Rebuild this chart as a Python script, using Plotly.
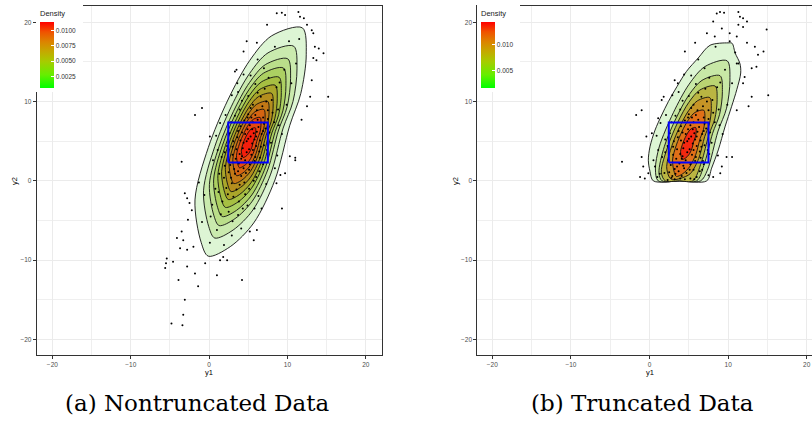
import plotly.graph_objects as go

# ---------------- data ----------------
# Panel (a): density contour polygons, outermost (0.001) to innermost (0.011)
levels_a = [0.001, 0.002, 0.003, 0.004, 0.005, 0.006, 0.007, 0.008, 0.009, 0.010, 0.011]
cont_a_x = [
    [11.9, 8.0, 5.2, 2.4, -0.1, -1.8, -1.0, -0.1, 2.7, 5.7, 8.4, 10.3, 11.7, 12.4],
    [10.80, 7.52, 5.17, 2.82, 0.72, -0.71, -0.04, 0.72, 3.07, 5.59, 7.86, 9.45, 10.71, 11.22],
    [10.04, 7.19, 5.15, 3.10, 1.28, 0.04, 0.62, 1.28, 3.32, 5.51, 7.48, 8.87, 9.96, 10.40],
    [9.49, 6.95, 5.13, 3.31, 1.68, 0.58, 1.10, 1.68, 3.50, 5.46, 7.21, 8.45, 9.42, 9.81],
    [8.93, 6.71, 5.11, 3.52, 2.09, 1.12, 1.58, 2.09, 3.69, 5.40, 6.94, 8.02, 8.88, 9.22],
    [8.45, 6.50, 5.10, 3.70, 2.45, 1.60, 2.00, 2.45, 3.85, 5.35, 6.70, 7.65, 8.40, 8.70],
    [7.97, 6.29, 5.09, 3.88, 2.81, 2.08, 2.42, 2.81, 4.01, 5.30, 6.46, 7.28, 7.92, 8.18],
    [7.48, 6.08, 5.07, 4.06, 3.16, 2.55, 2.84, 3.16, 4.17, 5.25, 6.22, 6.91, 7.45, 7.66],
    [7.00, 5.87, 5.06, 4.25, 3.52, 3.03, 3.26, 3.52, 4.33, 5.20, 5.99, 6.54, 6.97, 7.15],
    [6.52, 5.66, 5.04, 4.43, 3.88, 3.50, 3.68, 3.88, 4.49, 5.15, 5.75, 6.17, 6.50, 6.63],
    [5.90, 5.39, 5.03, 4.66, 4.34, 4.12, 4.22, 4.34, 4.70, 5.09, 5.44, 5.69, 5.88, 5.96],
]
cont_a_y = [
    [19.3, 18.3, 15.2, 10.2, 4.2, -2.4, -7.8, -9.5, -8.3, -5.3, 0.1, 7.0, 11.0, 15.9],
    [16.98, 16.14, 13.54, 9.34, 4.30, -1.25, -5.78, -7.21, -6.20, -3.68, 0.85, 6.65, 10.01, 14.12],
    [15.39, 14.66, 12.39, 8.74, 4.36, -0.46, -4.40, -5.64, -4.76, -2.57, 1.37, 6.41, 9.33, 12.90],
    [14.23, 13.58, 11.56, 8.31, 4.41, 0.12, -3.39, -4.50, -3.72, -1.77, 1.74, 6.23, 8.83, 12.02],
    [13.07, 12.50, 10.73, 7.88, 4.46, 0.70, -2.38, -3.35, -2.67, -0.96, 2.12, 6.05, 8.33, 11.13],
    [12.05, 11.55, 10.00, 7.50, 4.50, 1.20, -1.50, -2.35, -1.75, -0.25, 2.45, 5.90, 7.90, 10.35],
    [11.04, 10.61, 9.27, 7.12, 4.54, 1.70, -0.62, -1.35, -0.83, 0.46, 2.78, 5.75, 7.47, 9.57],
    [10.02, 9.66, 8.54, 6.74, 4.58, 2.21, 0.26, -0.35, 0.08, 1.16, 3.11, 5.59, 7.03, 8.80],
    [9.01, 8.72, 7.82, 6.37, 4.63, 2.71, 1.15, 0.65, 1.00, 1.87, 3.44, 5.44, 6.60, 8.02],
    [7.99, 7.77, 7.09, 5.99, 4.67, 3.22, 2.03, 1.65, 1.92, 2.58, 3.77, 5.28, 6.16, 7.24],
    [6.69, 6.56, 6.15, 5.50, 4.72, 3.86, 3.16, 2.94, 3.10, 3.49, 4.19, 5.09, 5.61, 6.24],
]

# Panel (b): truncated data contours, 0.002 ... 0.014
levels_b = [0.002, 0.004, 0.006, 0.008, 0.010, 0.012, 0.014]
cont_b_x = [
    [10.0, 7.7, 6.2, 4.7, 3.5, 2.4, 1.55, 0.7, 0.06, -0.15, 0.06, 0.48, 3.9, 7.28, 7.9, 8.75, 9.6, 10.45, 11.1, 11.6, 11.5, 10.9, 10.5],
    [9.87, 7.06, 5.04, 3.03, 1.23, 0.75, 1.1, 3.8, 6.5, 7.35, 8.72, 9.80, 10.23],
    [8.97, 6.67, 5.02, 3.37, 1.89, 1.2, 1.6, 3.8, 6.0, 6.91, 8.03, 8.91, 9.27],
    [8.35, 6.40, 5.00, 3.60, 2.35, 1.5, 2.0, 3.8, 5.5, 6.60, 7.55, 8.30, 8.60],
    [7.66, 6.10, 4.98, 3.86, 2.86, 2.18, 2.5, 2.9, 3.9, 5.18, 6.26, 7.02, 7.62, 7.86],
    [6.90, 5.77, 4.96, 4.15, 3.42, 2.93, 3.16, 3.42, 4.23, 5.10, 5.89, 6.44, 6.87, 7.05],
    [5.87, 5.32, 4.93, 4.54, 4.19, 3.95, 4.06, 4.19, 4.58, 5.00, 5.38, 5.64, 5.85, 5.94],
]
cont_b_y = [
    [17.4, 17.1, 15.5, 13.8, 11.9, 10.0, 8.3, 6.4, 4.3, 2.6, 1.2, 0.0, 0.0, 0.0, 1.6, 3.9, 6.8, 9.4, 11.5, 13.6, 14.8, 16.1, 17.35],
    [15.14, 14.42, 12.19, 8.59, 4.27, 1.5, 0.0, 0.0, 0.0, 1.32, 6.28, 9.16, 12.69],
    [13.26, 12.67, 10.84, 7.89, 4.35, 1.0, 0.0, 0.0, 0.0, 1.93, 6.00, 8.36, 11.25],
    [11.95, 11.45, 9.90, 7.40, 4.40, 1.1, 0.0, 0.0, 0.0, 2.35, 5.80, 7.80, 10.25],
    [10.50, 10.10, 8.86, 6.86, 4.46, 1.82, 0.5, 0.15, 0.3, 0.9, 2.82, 5.58, 7.18, 9.14],
    [8.91, 8.62, 7.72, 6.27, 4.53, 2.61, 1.05, 0.55, 0.90, 1.77, 3.34, 5.34, 6.50, 7.92],
    [6.73, 6.59, 6.16, 5.46, 4.62, 3.69, 2.94, 2.70, 2.87, 3.29, 4.04, 5.01, 5.57, 6.25],
]

# Scatter points (y1, y2)
pts_a_y1 = [8.64, 9.28, 9.70, 11.4, 11.6, 12.1, 12.5, 13.1, 13.3, 13.5, 14.0, 14.6, 13.7, 13.3, 15.2, 12.9, 13.1, 12.5, 11.8, 7.4,
            6.1, 4.8, 4.4, 3.3, 3.5, -0.9, -1.8, 0.1, -3.5, 10.3, 11.0, 8.4, -3.1, -2.8, -2.5, -2.2, -2.7, -3.5, -4.1, -3.3,
            -3.7, -2.8, -2.0, -5.4, -5.5, -5.6, -4.6, -2.8, -1.8, -0.5, 1.0, -3.9, -1.4, 4.2, -3.1, -3.3, -4.8, -3.4, 1.8, 2.3,
            1.4, 5.2, 6.1, 5.7, 6.7, 9.3, 8.6, 9.1, 9.7, 11.0,
            4.2, 5.1, 5.8, 4.6, 3.8, 6.3, 5.4, 4.9, 3.5, 6.0, 4.4, 5.6, 3.2, 6.7, 4.0, 5.2, 4.7, 6.9, 3.0, 5.9,
            4.5, 6.4, 3.6, 5.3, 4.1, 7.2, 5.0, 2.8, 6.1, 3.9,
            2.2, 3.1, 2.0, 1.7, 4.6, 7.5, 8.0, 6.6, 5.6, 3.3, 2.6, 1.6, 7.9, 8.3, 6.9, 4.9, 2.5, 1.2, 3.7, 7.1,
            8.8, 5.9, 4.2, 2.3, 8.6, 6.4,
            0.2, 1.0, 0.4, 2.9, 4.1, -0.6, 0.5, 1.4, 2.9, 4.4, 6.2, 8.4, 10.2, 11.1, 10.5, 9.9, 9.3, 8.7, 7.3, 5.8,
            0.1, -0.9, -1.3, 0.9, 3.6, 7.0, 9.6, 11.5, 6.3, 1.9,
            4.8, 5.5, 4.3, 5.0, 3.9, 6.1, 4.6, 5.7, 3.4, 6.5, 4.0, 5.2, 3.3, 6.2, 3.7, 5.8, 4.4, 7.0, 2.7, 6.6,
            4.9, 5.9, 3.1, 5.5, 4.5, 7.5, 5.3, 2.5, 6.8, 3.5, 4.1, 5.6, 4.8, 3.7, 6.0, 4.2, 5.1, 6.9, 3.0, 5.4,
            2.9, 3.8, 2.4, 1.9, 4.3, 5.1, 6.0, 7.4, 7.7, 8.1, 7.3, 6.2, 5.0, 3.9, 2.8, 2.0, 1.3, 7.0, 6.5, 5.7,
            3.0, 1.5, 0.8, 1.1, 2.1, 3.7, 5.3, 7.6, 9.0, 8.9]
pts_a_y2 = [21.13, 21.2, 20.9, 21.3, 20.7, 20.5, 19.7, 19.0, 18.6, 16.9, 16.7, 16.1, 15.2, 15.5, 10.6, 10.6, 12.7, 9.4, 7.7, 19.7,
            17.4, 17.6, 16.3, 13.8, 14.0, 9.2, 8.3, 5.6, 2.4, 3.1, 2.9, 1.6, -1.56, -2.2, -2.8, -3.7, -4.9, -6.4, -7.2, -7.5,
            -8.5, -8.7, -8.3, -9.8, -10.4, -11.0, -10.2, -10.8, -11.7, -10.4, -11.9, -12.5, -13.3, -12.5, -15.0, -16.9, -18.0, -18.2, -9.6, -10.0,
            -10.0, -6.4, -6.2, -7.5, -3.5, -3.5, -0.3, 0.74, 0.96, 2.6,
            3.1, 4.0, 5.2, 5.9, 2.2, 6.8, 3.3, 6.5, 4.0, 4.4, 4.8, 7.4, 1.5, 5.9, 6.9, 2.1, 1.0, 8.0, 3.3, 3.0,
            7.6, 3.7, 5.5, 5.6, 0.6, 6.6, 8.4, 0.4, 8.9, -0.5,
            -0.9, -2.0, 1.9, -2.6, -1.7, 8.9, 10.2, 10.6, 9.6, 8.2, 6.0, 3.0, 4.8, 7.4, 2.1, -3.1, -3.9, -1.4, -4.3, 11.6,
            9.0, 12.2, 10.1, 4.4, 11.8, 1.2,
            -4.5, -6.2, -3.0, -6.9, -6.0, -1.8, 2.6, 7.3, 10.8, 13.4, 15.3, 16.9, 17.6, 14.8, 12.3, 9.6, 5.9, 3.2, -0.4, -3.5,
            -7.8, -5.2, -0.2, 5.7, 12.3, 14.2, 14.0, 17.9, -1.9, -8.1,
            3.6, 4.7, 4.1, 5.3, 3.4, 6.2, 2.6, 6.0, 2.8, 5.1, 5.1, 7.0, 0.9, 7.7, 6.3, 2.5, 1.6, 7.2, 2.0, 4.3,
            8.0, 8.3, 5.0, 6.5, -0.2, 7.8, 9.2, 1.1, 9.4, -1.1, 2.8, 3.9, 5.0, 1.2, 5.6, 6.1, 1.4, 6.3, 4.3, 8.0,
            -0.3, -2.6, -1.7, 0.4, -3.5, -1.0, 0.5, 3.9, 6.1, 8.6, 10.0, 11.1, 10.7, 9.0, 7.4, 3.6, 0.9, 4.5, 2.9, 0.0,
            -5.1, -4.2, -1.0, 3.9, 8.3, 11.2, 13.3, 13.0, 12.4, 7.0]

pts_b_y1 = [8.55, 8.97, 9.48, 11.3, 11.5, 11.9, 12.4, 11.3, 11.9, 8.1, 9.2, 7.3, 8.3, 10.2, 11.1, 12.4, 13.4, 14.5, 14.9, 13.8,
            5.8, 4.5, 3.2, 1.8, 1.55, -1.0, -1.7, 1.1, 0.3, -0.4, -3.5, -1.0, -0.8, -1.2, -0.6, -0.15, 13.0, 12.6, 15.1, 11.9,
            12.1, 11.1, 9.8, 10.5, 9.2, 9.0, 8.1, 11.3, 13.0, 13.6,
            4.2, 5.1, 5.8, 4.6, 3.8, 6.3, 5.4, 4.9, 3.5, 6.0, 4.4, 5.6, 3.2, 6.7, 4.0, 5.2, 4.7, 6.9, 3.0, 5.9,
            4.5, 6.4, 3.6, 5.3, 4.1, 7.2, 5.0, 2.8, 6.1, 3.9, 5.6, 2.4, 6.8, 4.3,
            7.5, 8.0, 6.6, 5.6, 3.3, 2.6, 1.6, 7.9, 8.3, 6.9, 7.1, 8.8, 5.9, 4.2, 2.3, 8.6, 6.4, 1.9, 7.6, 2.0,
            0.5, 1.4, 2.9, 4.4, 6.2, 8.4, 10.2, 11.1, 10.5, 9.9, 9.3, 8.7, 0.9, 3.6, 7.0, 9.6, 1.0, 7.5, 0.7, 10.9,
            4.8, 5.5, 4.3, 5.0, 3.9, 6.1, 4.6, 5.7, 3.4, 6.5, 4.0, 5.2, 3.3, 6.2, 3.7, 5.8, 4.4, 7.0, 2.7, 6.6,
            4.9, 5.9, 3.1, 5.5, 4.5, 7.5, 5.3, 2.5, 6.8, 3.5, 4.1, 5.6, 4.8, 3.7, 6.0, 4.2, 5.1, 6.9, 3.0, 5.4,
            2.9, 6.0, 7.4, 7.7, 8.1, 7.3, 6.2, 5.0, 3.9, 2.8, 2.0, 1.3, 7.0, 6.5, 5.7, 1.1, 2.1, 3.7, 5.3, 7.6,
            9.0, 8.9, 5.2, 3.2, 6.7, 2.3]
pts_b_y2 = [21.1, 21.3, 21.2, 21.3, 20.7, 20.5, 20.1, 19.7, 19.4, 20.1, 19.2, 18.6, 18.2, 18.6, 18.2, 17.4, 16.9, 16.3, 19.1, 15.9,
            17.4, 16.3, 12.7, 10.6, 10.2, 8.9, 8.3, 7.9, 6.0, 5.6, 2.4, 3.0, 1.8, 0.5, 0.3, 0.95, 10.6, 9.4, 10.8, 12.3,
            13.1, 8.9, 3.0, 3.0, 1.8, 0.95, 0.5, 14.8, 14.2, 14.4,
            3.1, 4.0, 5.2, 5.9, 2.2, 6.8, 3.3, 6.5, 4.0, 4.4, 4.8, 7.4, 1.5, 5.9, 6.9, 2.1, 1.0, 8.0, 3.3, 3.0,
            7.6, 3.7, 5.5, 5.6, 0.6, 6.6, 8.4, 0.4, 8.9, 0.3, 1.4, 2.6, 2.5, 1.9,
            8.9, 10.2, 10.6, 9.6, 8.2, 6.0, 3.0, 4.8, 7.4, 2.1, 11.6, 9.0, 12.2, 10.1, 4.4, 11.8, 1.2, 1.0, 3.4, 5.2,
            2.6, 7.3, 10.8, 13.4, 15.3, 16.9, 17.6, 14.8, 12.3, 9.6, 5.9, 3.2, 5.7, 12.3, 14.2, 14.0, 0.5, 0.7, 1.8, 16.2,
            3.6, 4.7, 4.1, 5.3, 3.4, 6.2, 2.6, 6.0, 2.8, 5.1, 5.1, 7.0, 0.9, 7.7, 6.3, 2.5, 1.6, 7.2, 2.0, 4.3,
            8.0, 8.3, 5.0, 6.5, 0.2, 7.8, 9.2, 1.1, 9.4, 1.8, 2.8, 3.9, 5.0, 1.2, 5.6, 6.1, 1.4, 6.3, 4.3, 8.0,
            0.6, 0.5, 3.9, 6.1, 8.6, 10.0, 11.1, 10.7, 9.0, 7.4, 3.6, 0.9, 4.5, 2.9, 0.2, 3.9, 8.3, 11.2, 13.3, 13.0,
            12.4, 7.0, 0.3, 0.2, 1.4, 0.1]

# Blue rectangle (y1 from/to, y2 from/to)
box_y1 = [2.45, 7.5]
box_y2 = [2.3, 7.35]

# Colour-bar ranges and ticks
cbar_a_range = [0.0007, 0.0114]
cbar_a_ticks = [0.0025, 0.0050, 0.0075, 0.0100]
cbar_a_text = ["0.0025", "0.0050", "0.0075", "0.0100"]
cbar_b_range = [0.0017, 0.0143]
cbar_b_ticks = [0.005, 0.010]
cbar_b_text = ["0.005", "0.010"]

axis_ticks = [-20, -10, 0, 10, 20]

# ---------------- styles ----------------
W, H = 812, 421
band_colors_a = ["#DDF5D4", "#CAEAAE", "#BADE8A", "#ACD062", "#A6BF42", "#AAA62A",
                 "#B48E1E", "#C27816", "#D46412", "#E84610", "#F41E0C"]
band_colors_b = ["#DDF5D4", "#C8E8A6", "#BAD472", "#BAB542", "#C69426", "#E07018", "#F42810"]
cscale = [[0, "#00FF00"], [0.2, "#66EE00"], [0.4, "#A6CC00"], [0.55, "#C4AA00"],
          [0.7, "#DC8400"], [0.85, "#F05200"], [1, "#FF0000"]]
tickfont = dict(family="Liberation Sans, Arial, sans-serif", size=6.5, color="#4D4D4D")
titlefont = dict(family="Liberation Sans, Arial, sans-serif", size=7.5, color="#000000")
capfont = dict(family="DejaVu Serif, serif", size=23, color="#000000")

fig = go.Figure()


def add_panel(cx_list, cy_list, colors, px, py, xa, ya):
    for xs, ys, c in zip(cx_list, cy_list, colors):
        fig.add_trace(go.Scatter(
            x=xs + [xs[0]], y=ys + [ys[0]], mode="lines", fill="toself", fillcolor=c,
            line=dict(color="#111111", width=0.9, shape="spline", smoothing=0.9),
            xaxis=xa, yaxis=ya, hoverinfo="skip", showlegend=False))
    fig.add_trace(go.Scatter(
        x=px, y=py, mode="markers", marker=dict(size=2, color="black", line=dict(width=0)),
        xaxis=xa, yaxis=ya, hoverinfo="skip", showlegend=False))
    bx = [box_y1[0], box_y1[1], box_y1[1], box_y1[0], box_y1[0]]
    by = [box_y2[0], box_y2[0], box_y2[1], box_y2[1], box_y2[0]]
    fig.add_trace(go.Scatter(
        x=bx, y=by, mode="lines", line=dict(color="#0000FF", width=2),
        xaxis=xa, yaxis=ya, hoverinfo="skip", showlegend=False))


add_panel(cont_a_x, cont_a_y, band_colors_a, pts_a_y1, pts_a_y2, "x", "y")
add_panel(cont_b_x, cont_b_y, band_colors_b, pts_b_y1, pts_b_y2, "x2", "y2")


def add_cbar(rng, ticks, text, xpix, xa, ya):
    fig.add_trace(go.Scatter(
        x=[None], y=[None], mode="markers", xaxis=xa, yaxis=ya, hoverinfo="skip", showlegend=False,
        marker=dict(color=[rng[0]], cmin=rng[0], cmax=rng[1], colorscale=cscale, showscale=True,
                    colorbar=dict(x=xpix / W, xanchor="left", xpad=0,
                                  y=1 - 87.7 / H, yanchor="bottom", ypad=0,
                                  len=79.5, lenmode="pixels", thickness=14, thicknessmode="pixels",
                                  outlinewidth=0, tickvals=ticks, ticktext=text,
                                  ticks="inside", ticklen=3, tickcolor="white", tickwidth=1,
                                  tickfont=dict(family=tickfont["family"], size=6.5, color="#333333"),
                                  title=dict(text="Density", side="top",
                                             font=dict(family=tickfont["family"], size=7.5, color="#1A1A1A"))))))


add_cbar(cbar_a_range, cbar_a_ticks, cbar_a_text, 40, "x", "y")
add_cbar(cbar_b_range, cbar_b_ticks, cbar_b_text, 481, "x2", "y2")

ydom = [1 - 355.3 / H, 1 - 6 / H]
common = dict(showgrid=True, gridcolor="#EBEBEB", gridwidth=1, zeroline=False,
              showline=True, linecolor="#333333", linewidth=0.9,
              ticks="outside", ticklen=3, tickwidth=0.8, tickcolor="#333333",
              tickvals=axis_ticks, tickfont=tickfont,
              minor=dict(dtick=5, tick0=0, showgrid=True, gridcolor="#EFEFEF", gridwidth=0.6, ticks=""))

fig.update_layout(
    width=W, height=H, autosize=False, margin=dict(l=0, r=0, t=0, b=0),
    paper_bgcolor="white", plot_bgcolor="white",
    xaxis=dict(domain=[36.7 / W, 381.7 / W], range=[-22, 22.03], mirror=True, anchor="y", **common),
    yaxis=dict(domain=ydom, range=[-22, 22.05], mirror=True, anchor="x", **common),
    xaxis2=dict(domain=[477.3 / W, 1.0], range=[-21.91, 20.67], mirror=True, anchor="y2", **common),
    yaxis2=dict(domain=ydom, range=[-22, 22.05], mirror=False, anchor="x2", **common),
)

# white legend backgrounds over the panel corners
fig.add_shape(type="rect", xref="paper", yref="paper", x0=36 / W, x1=83 / W, y0=1 - 92 / H, y1=1,
              fillcolor="white", line=dict(width=0), layer="above")
fig.add_shape(type="rect", xref="paper", yref="paper", x0=477 / W, x1=520 / W, y0=1 - 92 / H, y1=1,
              fillcolor="white", line=dict(width=0), layer="above")

annots = [
    dict(text="y1", x=209.2 / W, y=1 - 372 / H, font=titlefont),
    dict(text="y1", x=649.5 / W, y=1 - 372 / H, font=titlefont),
    dict(text="y2", x=14 / W, y=1 - 181 / H, font=titlefont, textangle=-90),
    dict(text="y2", x=455 / W, y=1 - 181 / H, font=titlefont, textangle=-90),
    dict(text="(a) Nontruncated Data", x=197 / W, y=1 - 403 / H, font=capfont),
    dict(text="(b) Truncated Data", x=642 / W, y=1 - 403 / H, font=capfont),
]
for a in annots:
    fig.add_annotation(xref="paper", yref="paper", showarrow=False, xanchor="center", yanchor="middle", **a)

fig.write_html("out.html", config={"displayModeBar": False},
               post_script="document.body.style.margin='0px';document.body.style.overflow='hidden';")
